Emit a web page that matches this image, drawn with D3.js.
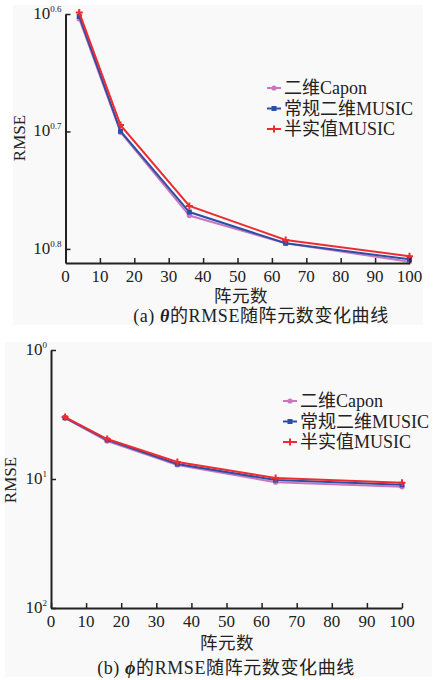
<!DOCTYPE html>
<html>
<head>
<meta charset="utf-8">
<script src="https://cdn.jsdelivr.net/npm/d3@7"></script>
<style>
  body { margin: 0; background: #fff; }
</style>
</head>
<body>
<script>
// data
const elements = [4, 16, 36, 64, 100];
const seriesNames = ['二维Capon', '常规二维MUSIC', '半实值MUSIC'];
// (a) theta RMSE
const thetaCapon = [4.02, 5.02, 5.91, 6.24, 6.47];
const thetaMusic = [4.00, 5.01, 5.87, 6.24, 6.44];
const thetaHalf = [3.97, 4.95, 5.80, 6.20, 6.40];
// (b) phi RMSE
const phiCapon = [3.37, 5.08, 7.79, 10.6, 11.5];
const phiMusic = [3.35, 4.98, 7.65, 10.2, 11.1];
const phiHalf = [3.31, 4.90, 7.38, 9.82, 10.7];
const xTicks = [0, 10, 20, 30, 40, 50, 60, 70, 80, 90, 100];
const yTickExpTop = ['0.6', '0.7', '0.8'];
const yTickExpBottom = ['0', '1', '2'];

const colors = ['#c977bd', '#2b4fa6', '#ee2b2f'];
const W = 434, H = 680;
const FONT = "'Liberation Serif', 'Times New Roman', 'DejaVu Serif', 'Noto Sans CJK SC', serif";

const svg = d3.select('body').append('svg')
  .attr('width', W).attr('height', H)
  .style('font-family', FONT);

// panel backgrounds
svg.append('rect').attr('x', 13).attr('y', 5).attr('width', 410).attr('height', 320).attr('fill', '#f9f9f9');
svg.append('rect').attr('x', 5).attr('y', 342).attr('width', 427).attr('height', 335).attr('fill', '#f9f9f9');

const drawMarker = (g, i, x, y) => {
  if (i === 0) {
    g.append('circle').attr('cx', x).attr('cy', y).attr('r', 2.6).attr('fill', colors[0]);
  } else if (i === 1) {
    g.append('rect').attr('x', x - 2.5).attr('y', y - 2.5).attr('width', 5).attr('height', 5).attr('fill', colors[1]);
  } else {
    g.append('path').attr('d', `M${x - 3.5},${y}H${x + 3.5}M${x},${y - 3.5}V${y + 3.5}`)
      .attr('stroke', colors[2]).attr('stroke-width', 2);
  }
};

const txt = (g) => g.append('text').attr('fill', '#222').style('font-family', FONT);

const drawPanel = (opt) => {
  const g = svg.append('g');
  const x = d3.scaleLinear().domain([0, 100]).range(opt.xr);
  const y = d3.scaleLog().domain(opt.yd).range(opt.yr);

  // series
  opt.series.forEach((vals, i) => {
    const line = d3.line().x((d, k) => x(elements[k])).y((d) => y(d));
    g.append('path').datum(vals)
      .attr('d', line)
      .attr('fill', 'none')
      .attr('stroke', colors[i])
      .attr('stroke-width', 2);
    vals.forEach((v, k) => drawMarker(g, i, x(elements[k]), y(v)));
  });

  // axes
  const xAxis = d3.axisBottom(x).tickValues(xTicks).tickSizeInner(-5).tickSizeOuter(0).tickFormat('');
  const gx = g.append('g').attr('transform', `translate(0,${opt.yr[1]})`).call(xAxis);
  const yAxis = d3.axisLeft(y).tickValues(opt.yTicks.map((e) => Math.pow(10, +e))).tickSizeInner(-5).tickSizeOuter(0).tickFormat('');
  const gy = g.append('g').attr('transform', `translate(${opt.xr[0]},0)`).call(yAxis);
  [gx, gy].forEach((a) => {
    a.select('.domain').attr('stroke', '#222').attr('stroke-width', 2);
    a.selectAll('.tick line').attr('stroke', '#222').attr('stroke-width', 1.5);
  });

  xTicks.forEach((t) => {
    txt(g).attr('x', x(t)).attr('y', opt.yr[1] + 19)
      .attr('text-anchor', 'middle').attr('font-size', 17).text(t);
  });
  opt.yTicks.forEach((e) => {
    const t = txt(g).attr('x', opt.xr[0] - 4).attr('y', y(Math.pow(10, +e)) + 5)
      .attr('text-anchor', 'end').attr('font-size', 17);
    t.append('tspan').text('10');
    t.append('tspan').attr('font-size', 9).attr('dy', -7).text(e);
  });

  // titles
  txt(g).attr('transform', `translate(${opt.ylab[0]},${opt.ylab[1]}) rotate(-90)`)
    .attr('text-anchor', 'middle').attr('dominant-baseline', 'central').attr('font-size', 17).text('RMSE');
  txt(g).attr('x', opt.xlab[0]).attr('y', opt.xlab[1])
    .attr('text-anchor', 'middle').attr('dominant-baseline', 'central').attr('font-size', 17.5)
    .attr('letter-spacing', 0.5).text('阵元数');
  const cap = txt(g).attr('x', opt.cap[0]).attr('y', opt.cap[1])
    .attr('text-anchor', 'middle').attr('dominant-baseline', 'central').attr('font-size', 18)
    .attr('letter-spacing', 0.6);
  cap.append('tspan').text(opt.capPre);
  cap.append('tspan').attr('font-style', 'italic').attr('font-weight', 'bold').text(opt.sym);
  cap.append('tspan').text('的RMSE随阵元数变化曲线');

  // legend
  seriesNames.forEach((name, i) => {
    const ly = opt.leg[1] + i * 20.5;
    const lx = opt.leg[0];
    g.append('line').attr('x1', lx).attr('x2', lx + 14).attr('y1', ly).attr('y2', ly)
      .attr('stroke', colors[i]).attr('stroke-width', 2);
    drawMarker(g, i, lx + 7, ly);
    txt(g).attr('x', lx + 17).attr('y', ly).attr('dominant-baseline', 'central')
      .attr('font-size', 18).text(name);
  });
};

drawPanel({
  xr: [65.5, 409.5], yd: [Math.pow(10, 0.6), Math.pow(10, 0.812)], yr: [14, 263],
  series: [thetaCapon, thetaMusic, thetaHalf], yTicks: yTickExpTop,
  ylab: [19, 138], xlab: [241, 296], cap: [261, 316], capPre: '(a) ', sym: 'θ',
  leg: [267, 88],
});

drawPanel({
  xr: [51, 402], yd: [1, 100], yr: [350, 608],
  series: [phiCapon, phiMusic, phiHalf], yTicks: yTickExpBottom,
  ylab: [10, 480], xlab: [227, 643], cap: [226, 668], capPre: '(b) ', sym: 'ϕ',
  leg: [283, 401],
});
</script>
</body>
</html>
